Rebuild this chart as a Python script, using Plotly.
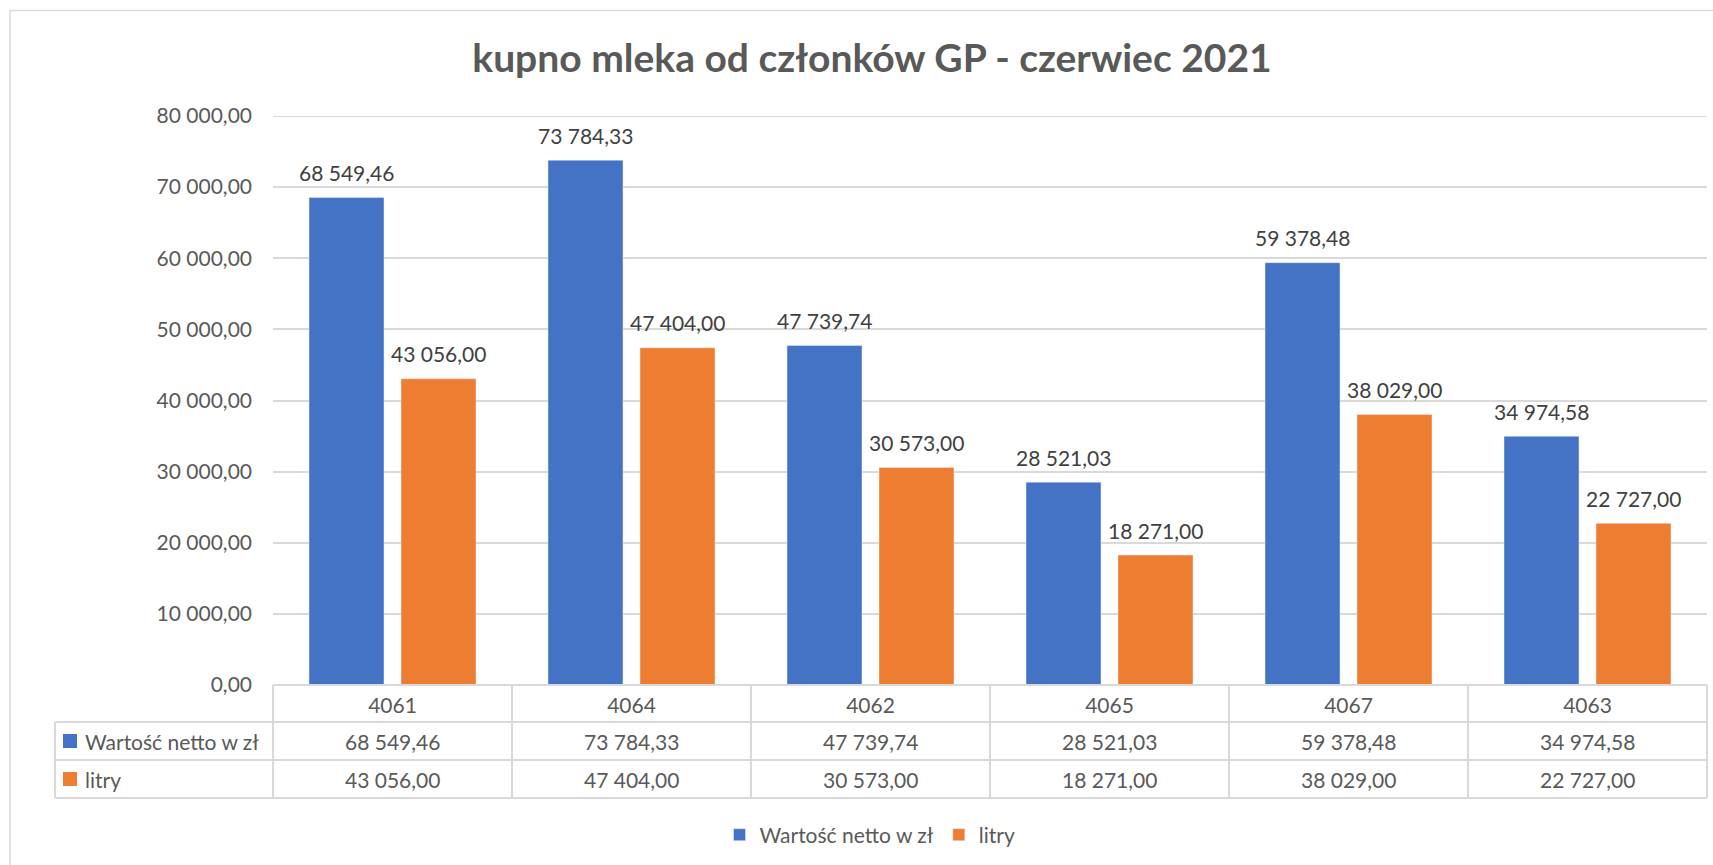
import plotly.graph_objects as go

categories = ["4061", "4064", "4062", "4065", "4067", "4063"]
wartosc = [68549.46, 73784.33, 47739.74, 28521.03, 59378.48, 34974.58]
litry = [43056.00, 47404.00, 30573.00, 18271.00, 38029.00, 22727.00]
series_names = ["Wartość netto w zł", "litry"]
y_ticks = [0, 10000, 20000, 30000, 40000, 50000, 60000, 70000, 80000]
title_text = "kupno mleka od członków GP - czerwiec 2021"

BLUE = "#4472C4"
ORANGE = "#ED7D31"
GRID = "#D9D9D9"
TXT = "#595959"
LBL = "#404040"
FONT = "Lato"
FS = 21

W, H = 1713, 865
L, R, T, B = 273, 6, 116, 180
PW, PH = W - L - R, H - T - B


def px_x(px):
    return (px - L) / PW


def px_y(py):
    return (H - B - py) / PH


def fmt(v):
    return f"{v:,.2f}".replace(",", " ").replace(".", ",")


idx = list(range(len(categories)))

fig = go.Figure()
fig.add_bar(x=idx, y=wartosc, name=series_names[0], marker_color=BLUE)
fig.add_bar(x=idx, y=litry, name=series_names[1], marker_color=ORANGE)

annotations = []
# data labels above bars
for vals, dx in ((wartosc, -46), (litry, 46)):
    for i, v in zip(idx, vals):
        annotations.append(dict(x=i, y=v, xref="x", yref="y", text=fmt(v), showarrow=False,
                                xshift=dx, yshift=25, yanchor="middle",
                                font=dict(family=FONT, size=FS, color=LBL)))

shapes = []
line_style = dict(color=GRID, width=2)
row_y = [685, 722, 760, 798]
# outer chart border
shapes.append(dict(type="rect", xref="paper", yref="paper", x0=px_x(10), x1=px_x(1720),
                   y0=px_y(880), y1=px_y(10.5), line=dict(color=GRID, width=1.5)))
# top gridline (80 000)
shapes.append(dict(type="line", xref="paper", yref="y", x0=0, x1=1, y0=y_ticks[-1], y1=y_ticks[-1],
                   line=line_style))
# table horizontal lines
shapes.append(dict(type="line", xref="paper", yref="paper", x0=0, x1=1, y0=px_y(row_y[0]), y1=px_y(row_y[0]), line=line_style))
for ry in row_y[1:]:
    shapes.append(dict(type="line", xref="paper", yref="paper", x0=px_x(55), x1=1, y0=px_y(ry), y1=px_y(ry), line=line_style))
# table vertical lines
n = len(categories)
for k in range(n + 1):
    shapes.append(dict(type="line", xref="paper", yref="paper", x0=k / n, x1=k / n,
                       y0=px_y(row_y[0]), y1=px_y(row_y[3]), line=line_style))
shapes.append(dict(type="line", xref="paper", yref="paper", x0=px_x(55), x1=px_x(55),
                   y0=px_y(row_y[1]), y1=px_y(row_y[3]), line=line_style))

# table rows: series key + values
for r, (name, vals, col) in enumerate(((series_names[0], wartosc, BLUE), (series_names[1], litry, ORANGE))):
    top, bot = row_y[r + 1], row_y[r + 2]
    cy = (top + bot) / 2
    shapes.append(dict(type="rect", xref="paper", yref="paper", x0=px_x(63), x1=px_x(77),
                       y0=px_y(cy - 7), y1=px_y(cy + 7), fillcolor=col, line=dict(width=0)))
    annotations.append(dict(x=px_x(83), y=px_y(cy), xref="paper", yref="paper", text=name,
                            showarrow=False, xanchor="left", yanchor="middle",
                            font=dict(family=FONT, size=FS, color=TXT)))
    for i, v in zip(idx, vals):
        annotations.append(dict(x=i, y=px_y(cy), xref="x", yref="paper", text=fmt(v),
                                showarrow=False, xanchor="center", yanchor="middle",
                                font=dict(family=FONT, size=FS, color=TXT)))

fig.update_layout(
    width=W, height=H,
    margin=dict(l=L, r=R, t=T, b=B, autoexpand=False),
    paper_bgcolor="white", plot_bgcolor="white",
    separators=", ",
    barmode="group", bargap=0.23, bargroupgap=0.185,
    font=dict(family=FONT, size=FS, color=TXT),
    title=dict(text=f"<b>{title_text}</b>", x=px_x(872), xref="paper", xanchor="center",
               y=1 - 58 / H, yref="container", yanchor="middle",
               font=dict(family=FONT, size=39, color=TXT)),
    xaxis=dict(range=[-0.5, n - 0.5], tickmode="array", tickvals=idx, ticktext=categories,
               showgrid=False, showline=False, zeroline=False, ticks="",
               tickfont=dict(family=FONT, size=FS, color=TXT), ticklabelstandoff=6),
    yaxis=dict(range=[0, 80000], tickvals=y_ticks, tickformat=",.2f", showgrid=True,
               gridcolor=GRID, gridwidth=2, zeroline=False, showline=False, ticks="",
               tickfont=dict(family=FONT, size=FS, color=TXT), ticklabelstandoff=20),
    legend=dict(orientation="h", x=px_x(870), xanchor="center", y=px_y(835), yanchor="middle",
                font=dict(family=FONT, size=FS, color=TXT), itemclick=False),
    shapes=shapes,
    annotations=annotations,
)

fig.write_html("out.html")
